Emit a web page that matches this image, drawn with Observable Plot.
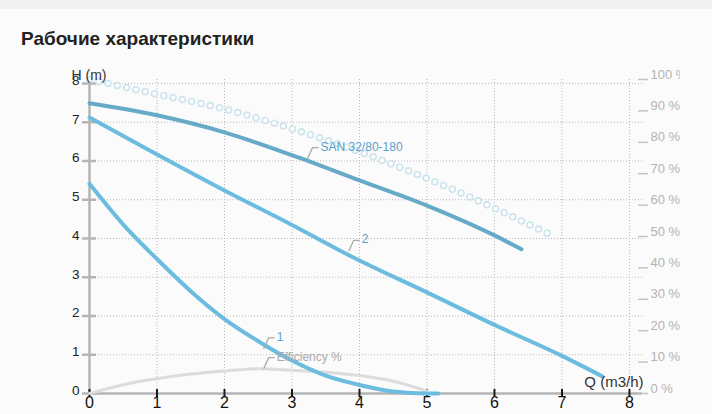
<!DOCTYPE html>
<html><head><meta charset="utf-8">
<script src="https://cdn.jsdelivr.net/npm/d3@7"></script>
<script src="https://cdn.jsdelivr.net/npm/@observablehq/plot@0.6"></script>
<style>
body{margin:0;background:#fbfbfb;font-family:"Liberation Sans",Arial,sans-serif;width:712px;height:414px;overflow:hidden;}
#strip{height:9px;background:#f1f1f1;}
#title{height:49px;position:relative;}
#title h1{position:absolute;left:21px;top:21px;margin:0;font-size:19px;line-height:18px;font-weight:bold;color:#222;white-space:nowrap;}
#chart svg{display:block;}
</style>
</head><body>
<div id="strip"></div>
<div id="title"><h1>Рабочие характеристики</h1></div>
<div id="chart"></div>
<script>
// Tick values
const qTicks = [0, 1, 2, 3, 4, 5, 6, 7, 8];
const hTicks = [0, 1, 2, 3, 4, 5, 6, 7, 8];
const pctTicks = [0, 10, 20, 30, 40, 50, 60, 70, 80, 90, 100];

// Curve "SAN 32/80-180"
const qSan = [0, 1, 2, 3, 4, 5, 6, 6.4];
const hSan = [7.49, 7.18, 6.74, 6.15, 5.5, 4.85, 4.08, 3.72];
// Curve "2"
const q2 = [0, 1, 2, 3, 4, 5, 6, 7, 7.6];
const h2 = [7.12, 6.17, 5.24, 4.35, 3.43, 2.61, 1.77, 0.97, 0.44];
// Curve "1"
const q1 = [0, 0.5, 1, 1.5, 2, 2.5, 3, 3.5, 4, 4.5, 5, 5.17];
const h1 = [5.41, 4.36, 3.47, 2.64, 1.92, 1.35, 0.85, 0.46, 0.22, 0.05, 0.0, 0.0];
// Efficiency % (grey)
const qEff = [0, 0.5, 1, 1.5, 2, 2.5, 3, 3.5, 4, 4.5, 5];
const pEff = [0, 2.8, 4.7, 6.2, 7.2, 7.9, 7.4, 6.8, 5.7, 3.9, 0.8];
// Dotted (circles) % curve
const qDots = [0, 1, 2, 3, 4, 5, 6, 6.85];
const pDots = [100, 95.3, 90.6, 84.3, 77, 68.5, 59, 50.3];

// Curve labels (anchor points on the curves)
const lblText = ["SAN 32/80-180", "2", "1"];
const lblQ = [3.23, 3.84, 2.58];
const lblH = [6.06, 3.67, 1.15];
const effLblText = ["Efficiency %"];
const effLblQ = [2.58];
const effLblP = [7.9];

const k = 8.103 / 100; // % -> H units for the right axis

const tbl = (qs, vs) => qs.map((q, i) => ({q, v: vs[i]}));
const tSan = tbl(qSan, hSan), t2 = tbl(q2, h2), t1 = tbl(q1, h1);
const tEff = tbl(qEff, pEff), tDots = tbl(qDots, pDots);
const tLbl = lblText.map((t, i) => ({t, q: lblQ[i], v: lblH[i]}));
const tEffLbl = effLblText.map((t, i) => ({t, q: effLblQ[i], v: effLblP[i]}));

const leader = {draw(ctx) { ctx.moveTo(0, 0); ctx.lineTo(5, -11); ctx.lineTo(11, -11); }};
const bg = "#fbfbfb";
const blue = "#6cbcdf", blueDark = "#66aac8", lblBlue = "#5b9fcb";

const chart = Plot.plot({
  width: 680, height: 356,
  marginLeft: 89, marginRight: 38, marginTop: 21, marginBottom: 21,
  style: {background: bg, overflow: "hidden", fontFamily: "Liberation Sans, Arial, sans-serif"},
  x: {domain: [0, 8.193]},
  y: {domain: [0, 8.103]},
  marks: [
    Plot.gridY(hTicks.slice(1), {stroke: "#b8b8b8", strokeOpacity: 1, strokeDasharray: "1,2"}),
    Plot.gridX(qTicks.slice(1), {stroke: "#b8b8b8", strokeOpacity: 1, strokeDasharray: "1,2"}),
    Plot.ruleX([0], {stroke: "#b5b5b5", strokeWidth: 2.5}),
    Plot.ruleY([0], {stroke: "#b5b5b5", strokeWidth: 2.3}),
    // left axis
    Plot.axisY(hTicks, {anchor: "left", tickSize: 14, dx: 7, tickFormat: () => "", stroke: "#b5b5b5", strokeWidth: 2.5, label: null}),
    Plot.axisY(hTicks, {anchor: "left", tickSize: 0, tickPadding: 10, dy: -3, fill: "#222", fontSize: 13.5, label: null}),
    // right % axis
    Plot.axisY(pctTicks.map(p => p * k), {anchor: "right", tickSize: 10, dx: -5, tickFormat: () => "", stroke: "#c4c4c4", strokeWidth: 1.5, label: null}),
    Plot.axisY(pctTicks.map(p => p * k), {anchor: "right", tickSize: 0, tickPadding: 8, dy: -5, fill: "#b3b3b3", fontSize: 13, tickFormat: d => Math.round(d / k) + " %", label: null}),
    // bottom axis
    Plot.axisX(qTicks, {anchor: "bottom", tickSize: 8, dy: -4, tickFormat: () => "", stroke: "#1a1a1a", strokeWidth: 2, label: null}),
    Plot.axisX(qTicks, {anchor: "bottom", tickSize: 0, tickPadding: 3, fill: "#111", fontSize: 16, label: null}),
    // efficiency
    Plot.line(tEff, {x: "q", y: d => d.v * k, stroke: "#dcdcdc", strokeWidth: 3, curve: "monotone-x"}),
    // circle ring curve
    Plot.line(tDots, {x: "q", y: d => d.v * k, stroke: "#cde4ee", strokeWidth: 7.5, strokeDasharray: "0 9.5", strokeLinecap: "round", curve: "monotone-x"}),
    Plot.line(tDots, {x: "q", y: d => d.v * k, stroke: "#ffffff", strokeWidth: 4.3, strokeDasharray: "0 9.5", strokeLinecap: "round", curve: "monotone-x"}),
    // pump curves
    Plot.line(t1, {x: "q", y: "v", stroke: blue, strokeWidth: 4, curve: "monotone-x"}),
    Plot.line(t2, {x: "q", y: "v", stroke: blue, strokeWidth: 4, curve: "monotone-x"}),
    Plot.line(tSan, {x: "q", y: "v", stroke: blueDark, strokeWidth: 4, curve: "monotone-x"}),
    // labels + leaders
    Plot.dot(tLbl, {x: "q", y: "v", symbol: leader, r: 5, fill: "none", stroke: "#aaaaaa", strokeWidth: 1.3}),
    Plot.dot(tEffLbl, {x: "q", y: d => d.v * k, symbol: leader, r: 5, fill: "none", stroke: "#aaaaaa", strokeWidth: 1.3}),
    Plot.text(tLbl, {x: "q", y: "v", text: "t", dx: 13, dy: -12, textAnchor: "start", fill: lblBlue, fontSize: 12}),
    Plot.text(tEffLbl, {x: "q", y: d => d.v * k, text: "t", dx: 13, dy: -12, textAnchor: "start", fill: "#aaaaaa", fontSize: 12}),
    // axis titles
    Plot.text(["H (m)"], {frameAnchor: "top-left", text: d => d, dx: -18, dy: -9, textAnchor: "start", fontSize: 14, fill: "#333"}),
    Plot.text(["Q (m3/h)"], {frameAnchor: "bottom-right", text: d => d, dx: 1, dy: -7, textAnchor: "end", fontSize: 15, fill: "#333"})
  ]
});
document.getElementById("chart").appendChild(chart);
</script>
</body></html>
